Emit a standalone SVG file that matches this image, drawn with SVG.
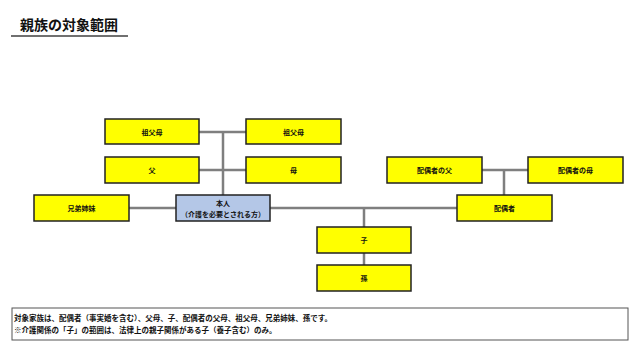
<svg xmlns="http://www.w3.org/2000/svg" width="639" height="348" viewBox="0 0 639 348">
<style>
text{font-family:"Noto Sans CJK JP","Noto Sans CJK SC",sans-serif;fill:#111}
.b rect{fill:#ffff00;stroke:#222;stroke-width:1.5}
.b text{font-size:7px;font-weight:bold;text-anchor:middle}
.me rect{fill:#b4c7e7}
.c line{stroke:#7f7f7f;stroke-width:2.5}
.note{font-size:7.5px;font-weight:bold}
</style>
<rect width="639" height="348" fill="#fff"/>
<g id="title">
<text x="20" y="30" font-size="14" font-weight="bold">親族の対象範囲</text>
<line x1="11" y1="36" x2="128" y2="36" stroke="#707070" stroke-width="2"/>
</g>
<g class="c" id="connectors">
<line x1="199" y1="132" x2="246" y2="132"/>
<line x1="199" y1="170" x2="246" y2="170"/>
<line x1="223" y1="132" x2="223" y2="195"/>
<line x1="129" y1="208" x2="457" y2="208"/>
<line x1="482" y1="170" x2="528" y2="170"/>
<line x1="504" y1="170" x2="504" y2="195"/>
<line x1="364" y1="208" x2="364" y2="227"/>
<line x1="364" y1="253" x2="364" y2="265"/>
</g>
<g class="b" id="gp-l"><rect x="105" y="119" width="94" height="25"/><text x="152" y="134.5">祖父母</text></g>
<g class="b" id="gp-r"><rect x="246" y="119" width="95" height="25"/><text x="293.5" y="134.5">祖父母</text></g>
<g class="b" id="father"><rect x="105" y="157" width="94" height="26"/><text x="152" y="172.5">父</text></g>
<g class="b" id="mother"><rect x="246" y="157" width="95" height="26"/><text x="293.5" y="172.5">母</text></g>
<g class="b" id="siblings"><rect x="34" y="195" width="95" height="26"/><text x="81.5" y="210.5">兄弟姉妹</text></g>
<g class="b me" id="self"><rect x="176" y="195" width="94" height="26"/><text x="223" y="205.5">本人</text><text x="223" y="217">（介護を必要とされる方）</text></g>
<g class="b" id="spouse-father"><rect x="387" y="157" width="95" height="26"/><text x="434.5" y="172.5">配偶者の父</text></g>
<g class="b" id="spouse-mother"><rect x="528" y="157" width="95" height="26"/><text x="575.5" y="172.5">配偶者の母</text></g>
<g class="b" id="spouse"><rect x="457" y="195" width="95" height="26"/><text x="504.5" y="210.5">配偶者</text></g>
<g class="b" id="child"><rect x="317" y="227" width="94" height="26"/><text x="364" y="242.5">子</text></g>
<g class="b" id="grandchild"><rect x="317" y="265" width="94" height="26"/><text x="364" y="280.5">孫</text></g>
<g id="note">
<rect x="12" y="308" width="616" height="32" fill="#fff" stroke="#555" stroke-width="1"/>
<text class="note" x="14" y="320.5">対象家族は、配偶者（事実婚を含む）、父母、子、配偶者の父母、祖父母、兄弟姉妹、孫です。</text>
<text class="note" x="14" y="333">※介護関係の「子」の範囲は、法律上の親子関係がある子（養子含む）のみ。</text>
</g>
</svg>
